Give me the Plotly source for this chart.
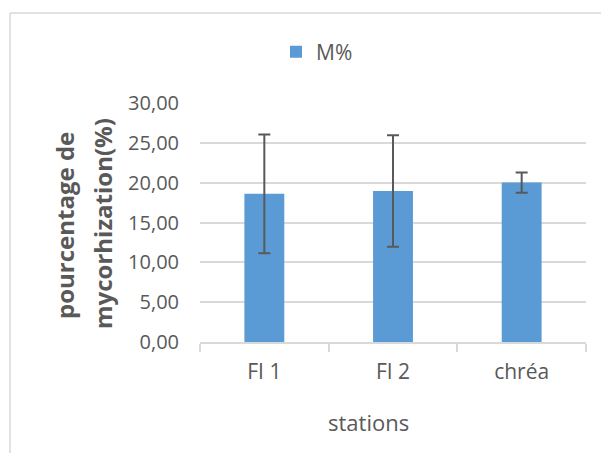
import plotly.graph_objects as go

stations = ["FI 1", "FI 2", "chréa"]
m_percent = [18.6, 18.95, 20.02]
m_error = [7.45, 7.0, 1.27]
y_ticks = [0, 5, 10, 15, 20, 25, 30]

OFF = 8  # page body margin
W, H = 609 - OFF, 453 - OFF
L, T = 200 - OFF, 103 - OFF
R = W - (586 - OFF)
B = H - (342 - OFF)
pw, ph = W - L - R, H - T - B

def px(x):
    return (x - OFF - L) / pw

def py(y):
    return (H - B - (y - OFF)) / ph

grey = "#595959"
light = "#d9d9d9"
font = "Open Sans"

fig = go.Figure()
fig.add_trace(go.Bar(
    x=stations, y=m_percent, name="M%",
    marker=dict(color="#5b9bd5", line=dict(width=0)),
    width=0.31,
    error_y=dict(type="data", array=m_error, visible=True, color=grey, thickness=2, width=6),
))

fig.update_layout(
    width=W, height=H,
    margin=dict(l=L, r=R, t=T, b=B, pad=0),
    paper_bgcolor="white", plot_bgcolor="white",
    separators=", ",
    showlegend=True,
    legend=dict(orientation="h", x=px(276), y=py(52), xanchor="left", yanchor="middle",
                font=dict(family=font, size=21, color=grey), bgcolor="rgba(0,0,0,0)",
                itemwidth=30),
    xaxis=dict(range=[-0.5, 2.5], showline=True, linecolor=light, linewidth=1.5,
               ticks="outside", tickson="boundaries", ticklen=8, tickcolor=light, tickwidth=1.5,
               ticklabelstandoff=10,
               tickfont=dict(family=font, size=21, color=grey), showgrid=False),
    yaxis=dict(range=[0, 30], tickvals=y_ticks, tickformat=".2f", showgrid=True,
               gridcolor=light, gridwidth=1.5, zeroline=False, showline=False,
               ticks="", ticklabelstandoff=20,
               tickfont=dict(family=font, size=20, color=grey)),
    font=dict(family=font, color=grey),
)

fig.add_annotation(text="stations", xref="paper", yref="paper", x=px(368), y=py(422),
                   showarrow=False, font=dict(family=font, size=22, color=grey),
                   xanchor="center", yanchor="middle")
fig.add_annotation(text="<b>pourcentage de</b>", xref="paper", yref="paper", x=px(64), y=py(226),
                   showarrow=False, textangle=-90, font=dict(family=font, size=24, color=grey),
                   xanchor="center", yanchor="middle")
fig.add_annotation(text="<b>mycorhization(%)</b>", xref="paper", yref="paper", x=px(102), y=py(224),
                   showarrow=False, textangle=-90, font=dict(family=font, size=24, color=grey),
                   xanchor="center", yanchor="middle")

fig.add_shape(type="line", xref="paper", yref="paper", x0=px(10), x1=px(10), y0=py(13), y1=py(470),
              line=dict(color=light, width=1.5))
fig.add_shape(type="line", xref="paper", yref="paper", x0=px(10), x1=px(640), y0=py(13), y1=py(13),
              line=dict(color=light, width=1.5))

fig.write_html("out.html")
